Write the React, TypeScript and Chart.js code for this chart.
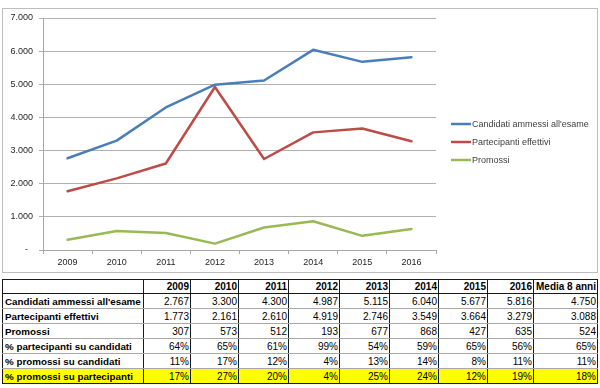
import React, { useEffect, useRef } from 'react';
import { Chart, registerables } from 'chart.js';

Chart.register(...registerables);

const years = ['2009', '2010', '2011', '2012', '2013', '2014', '2015', '2016'];
const candidati = [2767, 3300, 4300, 4987, 5115, 6040, 5677, 5816];
const partecipanti = [1773, 2161, 2610, 4919, 2746, 3549, 3664, 3279];
const promossi = [307, 573, 512, 193, 677, 868, 427, 635];
const pctPartCand = ['64%', '65%', '61%', '99%', '54%', '59%', '65%', '56%'];
const pctPromCand = ['11%', '17%', '12%', '4%', '13%', '14%', '8%', '11%'];
const pctPromPart = ['17%', '27%', '20%', '4%', '25%', '24%', '12%', '19%'];
const mediaHeader = 'Media 8 anni';
const mediaValues = ['4.750', '3.088', '524', '65%', '11%', '18%'];
const seriesLabels = ["Candidati ammessi all'esame", 'Partecipanti effettivi', 'Promossi'];
const rowLabels = [
  "Candidati ammessi all'esame",
  'Partecipanti effettivi',
  'Promossi',
  '% partecipanti su candidati',
  '% promossi su candidati',
  '% promossi su partecipanti',
];
const colors = ['#4a7ebb', '#be4b48', '#98b954'];

const fmt = (v: number) => String(v).replace(/\B(?=(\d{3})+(?!\d))/g, '.');

const FONT = '"Liberation Sans", Arial, sans-serif';

const legendPlugin = {
  id: 'sideLegend',
  afterDraw(chart: any) {
    const ctx = chart.ctx;
    const x0 = chart.chartArea.right + 15;
    const yc = 142;
    ctx.save();
    chart.data.datasets.forEach((ds: any, i: number) => {
      const y = yc + (i - 1) * 18;
      ctx.strokeStyle = ds.borderColor;
      ctx.lineWidth = 2.5;
      ctx.beginPath();
      ctx.moveTo(x0, y);
      ctx.lineTo(x0 + 20, y);
      ctx.stroke();
      ctx.fillStyle = '#404040';
      ctx.font = `9px ${FONT}`;
      ctx.textBaseline = 'middle';
      ctx.textAlign = 'left';
      ctx.fillText(ds.label, x0 + 21, y + 0.5);
    });
    ctx.restore();
  },
};

export default function App() {
  const ref = useRef<HTMLCanvasElement>(null);

  useEffect(() => {
    if (!ref.current) return;
    const series = [candidati, partecipanti, promossi];
    const chart = new Chart(ref.current, {
      type: 'line',
      data: {
        labels: years,
        datasets: series.map((d, i) => ({
          label: seriesLabels[i],
          data: d,
          borderColor: colors[i],
          backgroundColor: colors[i],
          borderWidth: 2.5,
          pointRadius: 0,
          pointHoverRadius: 0,
          tension: 0,
          borderJoinStyle: 'round' as const,
          borderCapStyle: 'round' as const,
          fill: false,
        })),
      },
      options: {
        responsive: false,
        animation: false,
        events: [],
        layout: { padding: { left: 0, top: 18, right: 164, bottom: 0 } },
        plugins: {
          legend: { display: false },
          tooltip: { enabled: false },
        },
        scales: {
          x: {
            offset: true,
            grid: {
              offset: true,
              drawOnChartArea: false,
              drawTicks: true,
              tickLength: 4,
              color: '#a6a6a6',
            },
            border: { color: '#a6a6a6', width: 1 },
            ticks: {
              color: '#262626',
              font: { family: FONT, size: 9 },
              padding: 3,
              maxRotation: 0,
            },
            afterFit: (s: any) => {
              s.height = 26;
            },
          },
          y: {
            min: 0,
            max: 7000,
            grid: { color: '#b0b0b0', tickLength: 4, lineWidth: 1 },
            border: { color: '#a6a6a6', width: 1 },
            ticks: {
              stepSize: 1000,
              color: '#262626',
              font: { family: FONT, size: 9 },
              padding: 6,
              callback: (v: any) => (Number(v) === 0 ? '-  ' : fmt(Number(v))),
            },
            afterFit: (s: any) => {
              s.width = 43;
            },
          },
        },
      },
      plugins: [legendPlugin],
    });
    return () => chart.destroy();
  }, []);

  const colWidths = [141, 47, 48, 50, 51, 50, 49, 49, 46, 64];
  const dark = '1px solid #1a1a1a';
  const light = '1px solid #a8a8a8';

  const rows: string[][] = [
    candidati.map(fmt),
    partecipanti.map(fmt),
    promossi.map(fmt),
    pctPartCand,
    pctPromCand,
    pctPromPart,
  ];

  const cell = (isLabel: boolean, bold: boolean, last: boolean, header: boolean): React.CSSProperties => ({
    borderLeft: dark,
    borderRight: dark,
    borderTop: header ? dark : light,
    borderBottom: last ? dark : header ? dark : light,
    textAlign: isLabel ? 'left' : 'right',
    fontWeight: bold ? 'bold' : 'normal',
    fontSize: isLabel ? '9.8px' : '10px',
    padding: isLabel ? '0 0 0 2px' : '0 1px 0 0',
    whiteSpace: 'nowrap',
    overflow: 'hidden',
    lineHeight: '13px',
  });

  return (
    <div style={{ position: 'absolute', left: 0, top: 0, width: 600, height: 388, background: '#fff' }}>
      <div
        style={{
          position: 'absolute',
          left: 2,
          top: 8,
          width: 596,
          height: 265,
          border: '1px solid #bdbdbd',
          boxSizing: 'border-box',
        }}
      />
      <canvas
        ref={ref}
        width={600}
        height={276}
        style={{ position: 'absolute', left: 0, top: 0, width: 600, height: 276 }}
      />
      <table
        style={{
          position: 'absolute',
          left: 2,
          top: 279,
          width: 595,
          borderCollapse: 'collapse',
          tableLayout: 'fixed',
          fontFamily: FONT,
          fontSize: '10px',
          color: '#000',
        }}
      >
        <colgroup>
          {colWidths.map((w, i) => (
            <col key={i} style={{ width: w }} />
          ))}
        </colgroup>
        <tbody>
          <tr style={{ height: 14 }}>
            <td style={cell(true, true, false, true)}></td>
            {years.map((y) => (
              <td key={y} style={cell(false, true, false, true)}>
                {y}
              </td>
            ))}
            <td style={cell(false, true, false, true)}>{mediaHeader}</td>
          </tr>
          {rows.map((r, ri) => {
            const last = ri === rows.length - 1;
            return (
              <tr key={ri} style={{ height: 15, background: last ? '#ffff00' : '#fff' }}>
                <td style={cell(true, true, last, false)}>{rowLabels[ri]}</td>
                {r.map((v, ci) => (
                  <td key={ci} style={cell(false, false, last, false)}>
                    {v}
                  </td>
                ))}
                <td style={cell(false, false, last, false)}>{mediaValues[ri]}</td>
              </tr>
            );
          })}
        </tbody>
      </table>
    </div>
  );
}
